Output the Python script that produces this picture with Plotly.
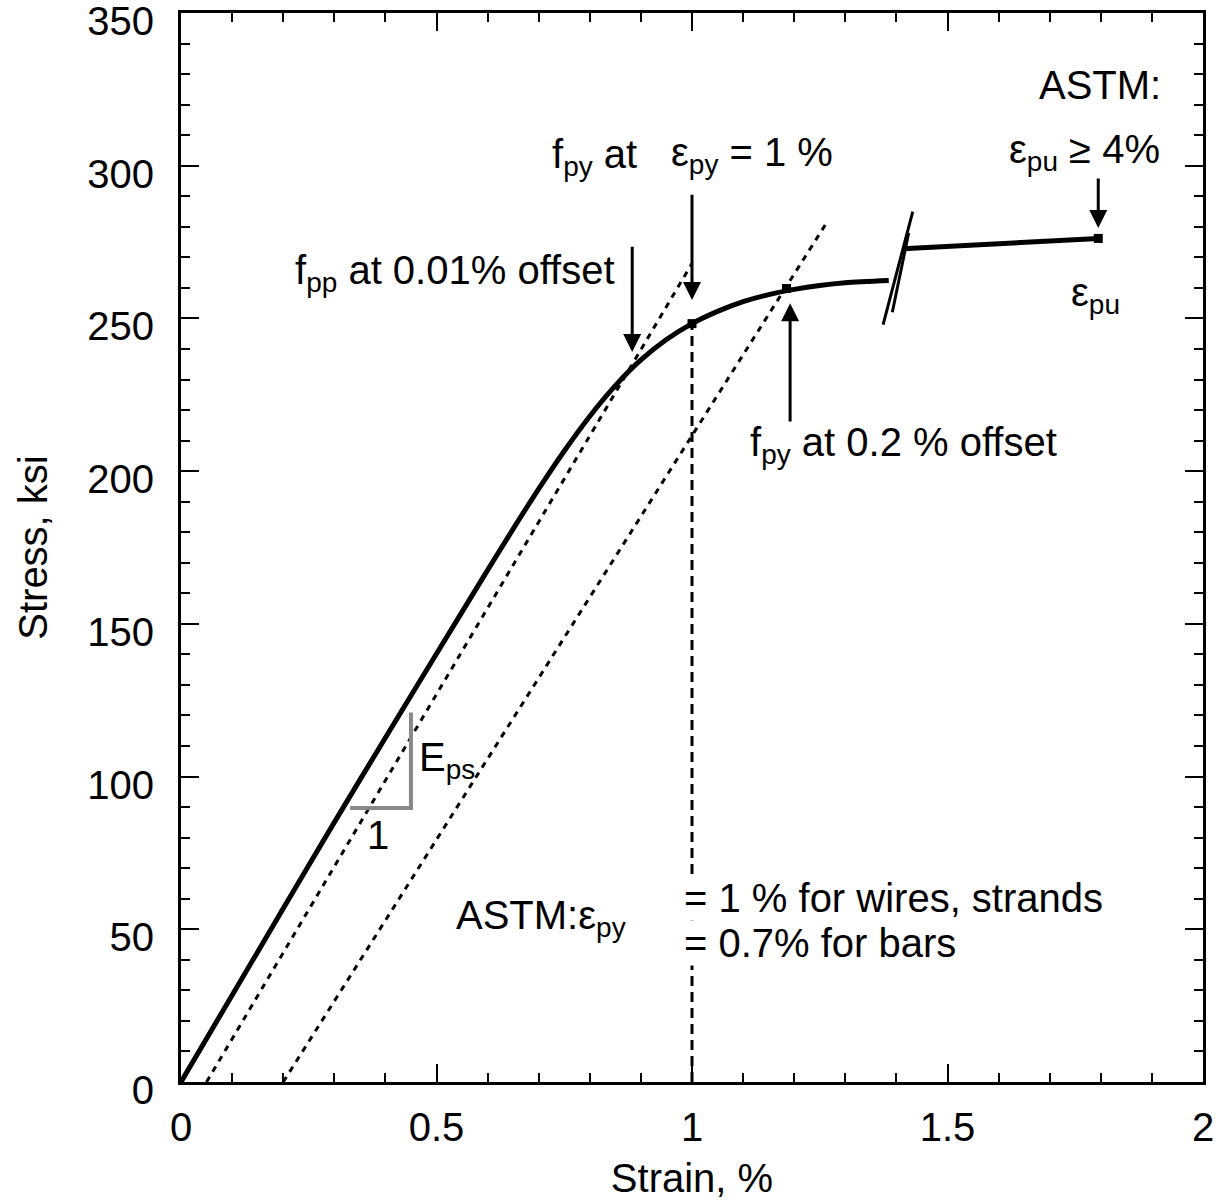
import plotly.graph_objects as go

# ---- data ----
curve_strain = [0, 0.1, 0.2, 0.3, 0.4, 0.5, 0.6, 0.65, 0.7, 0.75, 0.8, 0.85, 0.9, 0.95,
                1.0, 1.05, 1.1, 1.15, 1.2, 1.25, 1.3, 1.385]
curve_stress = [0, 28.4, 56.8, 85, 112.7, 140.2, 167.6, 181.1, 194.2, 206.6, 218, 228,
                236.4, 243.1, 248.3, 252.3, 255.5, 257.8, 259.5, 260.8, 261.7, 262.4]

upper_strain = [1.413, 1.795]
upper_stress = [272.8, 276.2]

offset1_strain = [0.05, 1.0]
offset1_stress = [0, 268]

offset2_strain = [0.2, 1.266]
offset2_stress = [0, 282]

eps_py_line_strain = [1.0, 1.0]
eps_py_line_stress = [0, 248]

break1_strain = [1.374, 1.432]
break1_stress = [248, 285]
break2_strain = [1.392, 1.424]
break2_stress = [252, 278]

tri_strain = [0.331, 0.450, 0.450]
tri_stress = [89.7, 89.7, 121]

dot_strain = [1.0, 1.185, 1.795]
dot_stress = [248.3, 259.8, 276.2]

x_ticks = [0, 0.5, 1, 1.5, 2]
x_ticktext = ["0", "0.5", "1", "1.5", "2"]
y_ticks = [0, 50, 100, 150, 200, 250, 300, 350]

FONT = "Liberation Sans, Arial, sans-serif"
FS = 40

fig = go.Figure()

fig.add_trace(go.Scatter(x=offset1_strain, y=offset1_stress, mode="lines",
                         line=dict(color="black", width=3, dash="6px,6px")))
fig.add_trace(go.Scatter(x=offset2_strain, y=offset2_stress, mode="lines",
                         line=dict(color="black", width=3, dash="6px,6px")))
fig.add_trace(go.Scatter(x=eps_py_line_strain, y=eps_py_line_stress, mode="lines",
                         line=dict(color="black", width=3, dash="10px,6px")))
fig.add_trace(go.Scatter(x=tri_strain, y=tri_stress, mode="lines",
                         line=dict(color="#888888", width=4)))
fig.add_trace(go.Scatter(x=curve_strain, y=curve_stress, mode="lines",
                         line=dict(color="black", width=5, shape="spline", smoothing=0.8)))
fig.add_trace(go.Scatter(x=upper_strain, y=upper_stress, mode="lines",
                         line=dict(color="black", width=5)))
fig.add_trace(go.Scatter(x=break1_strain, y=break1_stress, mode="lines",
                         line=dict(color="black", width=3)))
fig.add_trace(go.Scatter(x=break2_strain, y=break2_stress, mode="lines",
                         line=dict(color="black", width=3)))
fig.add_trace(go.Scatter(x=dot_strain, y=dot_stress, mode="markers",
                         marker=dict(color="black", size=9, symbol="square")))

def txt(x, y, s, xanchor="center", yanchor="middle", bg=None):
    fig.add_annotation(x=x, y=y, text=s, showarrow=False, xanchor=xanchor,
                       yanchor=yanchor, font=dict(family=FONT, size=FS, color="black"),
                       bgcolor=bg, borderpad=0)

def arrow(x, y0, y1):
    fig.add_annotation(x=x, y=y1, ax=x, ay=y0, axref="x", ayref="y", xref="x", yref="y",
                       text="", showarrow=True, arrowhead=2, arrowsize=1.2,
                       arrowwidth=3, arrowcolor="black")

txt(0.81, 303, "f<sub>py</sub> at")
txt(1.117, 303.5, "ε<sub>py</sub> = 1 %")
txt(0.536, 265, "f<sub>pp</sub> at 0.01% offset")
txt(1.413, 208.6, "f<sub>py</sub> at 0.2 % offset")
txt(1.798, 326.5, "ASTM:")
txt(1.769, 304.5, "ε<sub>pu</sub> ≥ 4%")
txt(1.789, 257.7, "ε<sub>pu</sub>")
txt(0.52, 105.4, "E<sub>ps</sub>")
txt(0.386, 80.9, "1")
txt(0.873, 53.7, "ASTM:ε<sub>py</sub>", xanchor="right")
txt(0.982, 60.2, "= 1 % for wires, strands", xanchor="left", bg="white")
txt(0.982, 45.5, "= 0.7% for bars", xanchor="left", bg="white")

arrow(1.0, 291, 256)
arrow(0.883, 274, 239)
arrow(1.192, 215.8, 255)
arrow(1.795, 296.3, 279.6)

axis_common = dict(showgrid=False, zeroline=False, showline=True, linecolor="black",
                   linewidth=3, mirror="ticks", ticks="inside", tickcolor="black",
                   tickwidth=2, ticklen=18, automargin=False,
                   tickfont=dict(family=FONT, size=FS, color="black"))

fig.update_xaxes(range=[0, 2], tickvals=x_ticks, ticktext=x_ticktext,
                 minor=dict(dtick=0.1, ticks="inside", ticklen=9, tickwidth=2, tickcolor="black"),
                 title=dict(text="Strain, %", font=dict(family=FONT, size=FS, color="black"),
                            standoff=16),
                 ticklabelstandoff=8, ticklabeloverflow="allow", **axis_common)
fig.update_yaxes(range=[0, 350], tickvals=y_ticks,
                 minor=dict(dtick=10, ticks="inside", ticklen=9, tickwidth=2, tickcolor="black"),
                 title=dict(text="Stress, ksi", font=dict(family=FONT, size=FS, color="black"),
                            standoff=28),
                 ticklabelstandoff=16, ticklabelshift=8, ticklabeloverflow="allow",
                 **axis_common)

fig.update_layout(width=1219, height=1200, margin=dict(l=181, r=16, t=13, b=118),
                  plot_bgcolor="white", paper_bgcolor="white", showlegend=False)

fig.write_html("out.html")
